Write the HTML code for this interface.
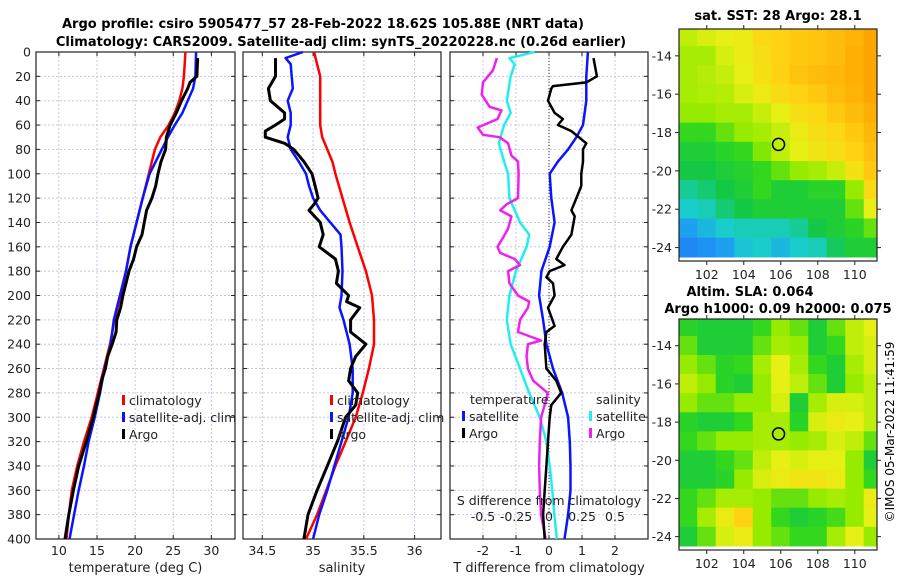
<!DOCTYPE html>
<html><head><meta charset="utf-8">
<style>
html,body{margin:0;padding:0;background:#fff;}
svg{display:block;font-family:"DejaVu Sans","Liberation Sans",sans-serif;}
</style></head>
<body>
<svg id="chart" width="900" height="580" viewBox="0 0 900 580" xmlns="http://www.w3.org/2000/svg">
<rect width="900" height="580" fill="#fff"/>
<text x="323" y="28" font-size="13" font-weight="bold" text-anchor="middle">Argo profile: csiro 5905477_57 28-Feb-2022 18.62S 105.88E (NRT data)</text>
<text x="341" y="46" font-size="13" font-weight="bold" text-anchor="middle">Climatology: CARS2009. Satellite-adj clim: synTS_20220228.nc (0.26d earlier)</text>
<text x="778" y="20" font-size="13" font-weight="bold" text-anchor="middle">sat. SST: 28 Argo: 28.1</text>
<text x="750" y="296" font-size="13" font-weight="bold" text-anchor="middle">Altim. SLA: 0.064</text>
<text x="778" y="313" font-size="13" font-weight="bold" text-anchor="middle">Argo h1000: 0.09 h2000: 0.075</text>
<text transform="translate(894,432) rotate(-90)" font-size="12" text-anchor="middle">©IMOS 05-Mar-2022 11:41:59</text>
<g id="layer"></g>
</svg>
<script>
// ---------- data ----------
const tempClimDepth = [0,10,20,30,40,50,60,70,80,100,120,140,160,180,200,220,240,260,280,300,320,340,360,380,400];
const tempClim = [26.6,26.5,26.4,26.2,25.8,25.2,24.4,23.3,22.6,21.8,21.0,20.2,19.4,18.8,18.1,17.3,16.7,15.9,15.1,14.3,13.3,12.4,11.7,11.3,11.0];
const tempSatDepth = [0,20,30,40,50,60,70,80,100,120,140,160,180,200,220,240,260,280,300,320,340,360,380,400];
const tempSat = [28.0,27.9,27.6,26.9,26.2,25.2,24.3,23.5,21.9,21.0,20.2,19.4,18.8,18.0,17.2,16.8,16.0,15.4,14.7,13.9,13.3,12.6,12.0,11.4];
const tempArgoDepth = [5,20,25,30,40,50,60,70,80,90,100,110,120,130,140,150,160,170,180,190,200,210,220,230,240,250,260,270,280,300,320,340,360,380,400];
const tempArgo = [28.2,28.1,27.2,26.9,26.1,25.4,24.6,24.1,24.0,23.4,23.0,22.7,22.2,21.5,21.2,20.9,20.2,19.8,19.2,18.8,18.4,18.1,17.6,17.5,17.0,16.4,16.1,15.6,15.3,14.5,13.6,12.6,11.9,11.3,10.8];

const salClimDepth = [0,10,20,40,60,70,80,90,100,120,140,160,180,200,220,240,260,280,300,320,340,360,380,400];
const salClim = [35.01,35.04,35.07,35.07,35.07,35.09,35.14,35.19,35.22,35.29,35.36,35.44,35.52,35.58,35.6,35.6,35.55,35.49,35.42,35.32,35.22,35.13,35.04,34.93];
const salSatDepth = [0,5,10,20,30,40,50,60,70,80,90,100,110,120,130,140,150,160,180,200,210,220,240,260,280,300,320,340,360,380,400];
const salSat = [34.9,34.73,34.78,34.79,34.8,34.75,34.78,34.78,34.75,34.78,34.86,34.93,34.96,35.0,35.07,35.17,35.27,35.28,35.29,35.28,35.26,35.3,35.36,35.39,35.39,35.35,35.28,35.21,35.14,35.06,35.0];
const salArgoDepth = [5,20,30,40,50,55,60,65,70,75,80,90,100,110,120,125,130,140,150,160,170,180,190,200,205,210,220,230,240,250,260,270,280,290,300,320,340,360,380,400];
const salArgo = [34.63,34.63,34.56,34.58,34.72,34.72,34.63,34.53,34.53,34.72,34.81,34.91,34.99,35.02,35.05,35.01,34.96,35.07,35.1,35.06,35.22,35.25,35.23,35.35,35.33,35.46,35.37,35.37,35.52,35.42,35.37,35.35,35.44,35.42,35.32,35.24,35.14,35.04,34.95,34.91];

const tDiffSatDepth = [0,20,40,60,70,80,90,100,120,140,160,180,200,220,240,260,280,300,320,340,360,380,400];
const tDiffSat = [1.18,1.13,1.13,1.03,0.83,0.58,0.27,0.02,0.07,0.17,0.02,-0.23,-0.3,-0.18,-0.08,0.12,0.4,0.58,0.63,0.65,0.65,0.58,0.47];
const tDiffArgoDepth = [5,20,25,28,30,40,50,55,60,65,75,80,90,100,110,120,130,135,150,160,170,175,180,185,190,200,210,225,230,240,260,270,280,290,300,320,340,360,380,400];
const tDiffArgo = [1.35,1.45,1.13,0.12,0.07,-0.03,0.17,0.42,0.27,0.68,1.13,1.03,1.03,0.98,0.98,0.83,0.68,0.78,0.68,0.42,0.22,0.47,0.02,-0.08,0.12,0.17,-0.03,0.17,-0.08,-0.13,-0.08,0.22,0.37,0.07,0.02,-0.03,-0.08,-0.13,-0.18,-0.13];
const sDiffSatDepth = [0,5,10,20,40,50,60,75,90,100,120,140,150,160,180,200,220,240,260,280,300,320,340,360,380,400];
const sDiffSat = [-0.11,-0.30,-0.26,-0.29,-0.32,-0.29,-0.34,-0.38,-0.34,-0.31,-0.30,-0.22,-0.15,-0.17,-0.25,-0.30,-0.32,-0.29,-0.22,-0.15,-0.07,-0.02,0.005,0.025,0.04,0.06];
const sDiffArgoDepth = [5,15,25,35,45,48,55,62,68,70,75,85,90,100,120,125,130,135,145,150,160,165,170,175,180,190,200,205,210,220,230,237,240,250,260,270,280,285,300,320,340,360,380,400];
const sDiffArgo = [-0.395,-0.425,-0.5,-0.51,-0.45,-0.36,-0.39,-0.54,-0.5,-0.375,-0.31,-0.285,-0.235,-0.23,-0.235,-0.32,-0.37,-0.285,-0.31,-0.335,-0.39,-0.37,-0.26,-0.22,-0.31,-0.3,-0.235,-0.15,-0.16,-0.22,-0.235,-0.06,-0.16,-0.17,-0.16,-0.12,-0.01,-0.02,-0.06,-0.07,-0.075,-0.07,-0.06,-0.025];

const depthTicks = [0,20,40,60,80,100,120,140,160,180,200,220,240,260,280,300,320,340,360,380,400];
const tempTicks = [10,15,20,25,30];
const salTicks = [34.5,35,35.5,36];
const tDiffTicks = [-2,-1,0,1,2];
const sDiffTicks = [-0.5,-0.25,0,0.25,0.5];
const sDiffTickLabels = ["-0.5","-0.25","0","0.25","0.5"];

const mapLons = [101,102,103,104,105,106,107,108,109,110,111];
const mapLats = [-13,-14,-15,-16,-17,-18,-19,-20,-21,-22,-23,-24];
const sstGrid = [
[0.65,0.68,0.7,0.72,0.78,0.8,0.82,0.83,0.85,0.87,0.9],
[0.62,0.62,0.68,0.72,0.76,0.8,0.82,0.83,0.85,0.88,0.9],
[0.62,0.64,0.66,0.7,0.75,0.8,0.83,0.85,0.86,0.88,0.9],
[0.62,0.63,0.64,0.68,0.72,0.77,0.8,0.82,0.85,0.87,0.9],
[0.6,0.6,0.62,0.62,0.66,0.7,0.76,0.78,0.82,0.85,0.88],
[0.5,0.5,0.55,0.6,0.62,0.66,0.72,0.76,0.78,0.82,0.86],
[0.45,0.45,0.48,0.5,0.58,0.65,0.7,0.74,0.76,0.8,0.84],
[0.42,0.42,0.45,0.47,0.5,0.55,0.6,0.62,0.66,0.75,0.82],
[0.35,0.38,0.42,0.45,0.5,0.45,0.45,0.48,0.48,0.6,0.78],
[0.3,0.32,0.38,0.42,0.45,0.45,0.45,0.45,0.45,0.55,0.7],
[0.2,0.25,0.3,0.32,0.32,0.32,0.35,0.42,0.45,0.48,0.55],
[0.12,0.15,0.2,0.28,0.3,0.25,0.3,0.32,0.4,0.45,0.45]];
const slaGrid = [
[0.48,0.45,0.45,0.45,0.5,0.6,0.55,0.45,0.55,0.65,0.7],
[0.55,0.45,0.45,0.45,0.55,0.62,0.6,0.45,0.5,0.65,0.68],
[0.6,0.55,0.48,0.5,0.62,0.7,0.62,0.5,0.45,0.62,0.68],
[0.65,0.6,0.48,0.45,0.6,0.7,0.65,0.55,0.45,0.6,0.65],
[0.6,0.55,0.55,0.6,0.6,0.68,0.45,0.62,0.68,0.68,0.65],
[0.48,0.45,0.45,0.5,0.62,0.62,0.48,0.68,0.72,0.7,0.65],
[0.5,0.55,0.6,0.6,0.62,0.62,0.6,0.62,0.68,0.65,0.55],
[0.45,0.45,0.5,0.55,0.65,0.7,0.68,0.7,0.7,0.6,0.45],
[0.45,0.45,0.48,0.6,0.68,0.72,0.74,0.74,0.72,0.6,0.5],
[0.5,0.55,0.62,0.62,0.6,0.55,0.55,0.6,0.62,0.6,0.72],
[0.5,0.62,0.72,0.8,0.6,0.5,0.45,0.48,0.52,0.6,0.7],
[0.45,0.55,0.68,0.72,0.6,0.55,0.5,0.5,0.62,0.7,0.6]];
const argoLon = 105.88;
const argoLat = -18.62;
const lonTicks = [102,104,106,108,110];
const latTicks = [-14,-16,-18,-20,-22,-24];

// ---------- helpers ----------
const NS = "http://www.w3.org/2000/svg";
const layer = document.getElementById('layer');
function mk(tag, attrs, parent){
  const e = document.createElementNS(NS, tag);
  for (const k in attrs) e.setAttribute(k, attrs[k]);
  (parent||layer).appendChild(e);
  return e;
}
const Y0 = 52, Y1 = 539;
function yDepth(d){ return Y0 + (d/400)*(Y1-Y0); }
function xScale(p, v){ return p.x0 + (v-p.min)/(p.max-p.min)*(p.x1-p.x0); }

const p1 = {x0:36, x1:235, min:7, max:33.1};
const p2 = {x0:243, x1:441, min:34.31, max:36.26};
const p3 = {x0:450, x1:648, min:-3, max:3};
const p3s = {x0:450, x1:648, min:-0.75, max:0.75};

function drawPanel(p, ticks, labels, name, showDepthLabels, xtitle){
  const g = mk('g', {});
  
  
  depthTicks.forEach(d => {
    const y = yDepth(d);
    const l = mk('line', {x1:p.x0, x2:p.x1, y1:y, y2:y, stroke:'#c4c6e6', 'stroke-width':1, 'stroke-dasharray':'2,2'}, g);
    
    
    mk('line', {x1:p.x0, x2:p.x0+4, y1:y, y2:y, stroke:'#222'}, g);
    mk('line', {x1:p.x1-4, x2:p.x1, y1:y, y2:y, stroke:'#222'}, g);
    if (showDepthLabels){
      const t = mk('text', {x:p.x0-5, y:y+4.5, 'font-size':12.5, 'text-anchor':'end', fill:'#222'}, g);
      t.textContent = d;
      
      
    }
  });
  ticks.forEach((v,i) => {
    const x = xScale(p, v);
    const l = mk('line', {x1:x, x2:x, y1:Y0, y2:Y1, stroke:'#c4c6e6', 'stroke-width':1, 'stroke-dasharray':'2,2'}, g);
    
    
    mk('line', {x1:x, x2:x, y1:Y1-4, y2:Y1, stroke:'#222'}, g);
    mk('line', {x1:x, x2:x, y1:Y0, y2:Y0+4, stroke:'#222'}, g);
    const t = mk('text', {x:x, y:Y1+16, 'font-size':12.5, 'text-anchor':'middle', fill:'#222'}, g);
    t.textContent = labels[i];
    
    
  });
  const fr = mk('rect', {x:p.x0, y:Y0, width:p.x1-p.x0, height:Y1-Y0, fill:'none', stroke:'#222', 'stroke-width':1.2}, g);
  
  
  const tt = mk('text', {x:(p.x0+p.x1)/2, y:572, 'font-size':13, 'text-anchor':'middle', fill:'#222'}, g);
  tt.textContent = xtitle;
  
  
  return g;
}
function drawLine(p, depths, vals, color, width, name){
  const pts = depths.map((d,i) => xScale(p, vals[i]).toFixed(1)+','+yDepth(d).toFixed(1)).join(' ');
  const l = mk('polyline', {points:pts, fill:'none', stroke:color, 'stroke-width':width, 'stroke-linejoin':'round'});
  
  
}
function legendEntry(x, y, color, label, name){
  const g = mk('g', {});
  
  
  mk('rect', {x:x, y:y-10, width:3, height:10, fill:color}, g);
  const t = mk('text', {x:x+7, y:y, 'font-size':12.5, fill:'#222'}, g);
  t.textContent = label;
}

// Panel 1: temperature
drawPanel(p1, tempTicks, tempTicks.map(String), 'temperature-panel', true, 'temperature (deg C)');
drawLine(p1, tempClimDepth, tempClim, '#ff0000', 2.5, 'temp-climatology-line');
drawLine(p1, tempSatDepth, tempSat, '#0a14ff', 2.5, 'temp-satellite-line');
drawLine(p1, tempArgoDepth, tempArgo, '#000', 3, 'temp-argo-line');
legendEntry(122, 405, '#ff0000', 'climatology', 'legend-climatology');
legendEntry(122, 422, '#0a14ff', 'satellite-adj. clim', 'legend-satellite');
legendEntry(122, 439, '#000', 'Argo', 'legend-argo');

// Panel 2: salinity
drawPanel(p2, salTicks, salTicks.map(String), 'salinity-panel', false, 'salinity');
drawLine(p2, salClimDepth, salClim, '#ff0000', 2.5, 'sal-climatology-line');
drawLine(p2, salSatDepth, salSat, '#0a14ff', 2.5, 'sal-satellite-line');
drawLine(p2, salArgoDepth, salArgo, '#000', 3, 'sal-argo-line');
legendEntry(330, 405, '#ff0000', 'climatology', 'legend-climatology-2');
legendEntry(330, 422, '#0a14ff', 'satellite-adj. clim', 'legend-satellite-2');
legendEntry(330, 439, '#000', 'Argo', 'legend-argo-2');

// Panel 3: differences
drawPanel(p3, tDiffTicks, tDiffTicks.map(String), 'difference-panel', false, 'T difference from climatology');
const zl = mk('line', {x1:xScale(p3,0), x2:xScale(p3,0), y1:Y0, y2:Y1, stroke:'#333', 'stroke-width':1, 'stroke-dasharray':'1,2'});


drawLine(p3s, sDiffSatDepth, sDiffSat, '#22eeee', 2.5, 'sdiff-satellite-line');
drawLine(p3s, sDiffArgoDepth, sDiffArgo, '#ee22ee', 2.5, 'sdiff-argo-line');
drawLine(p3, tDiffSatDepth, tDiffSat, '#0a14ff', 2.5, 'tdiff-satellite-line');
drawLine(p3, tDiffArgoDepth, tDiffArgo, '#000', 2.5, 'tdiff-argo-line');
(function(){
  const t = mk('text', {x:470, y:404, 'font-size':12.5, fill:'#222'});
  t.textContent = 'temperature';
  
  
  const s = mk('text', {x:596, y:404, 'font-size':12.5, fill:'#222'});
  s.textContent = 'salinity';
  
  
})();
legendEntry(462, 421, '#0a14ff', 'satellite', 'legend-t-satellite');
legendEntry(462, 438, '#000', 'Argo', 'legend-t-argo');
legendEntry(589, 421, '#22eeee', 'satellite', 'legend-s-satellite');
legendEntry(589, 438, '#ee22ee', 'Argo', 'legend-s-argo');
(function(){
  const t = mk('text', {x:549, y:505, 'font-size':12.5, 'text-anchor':'middle', fill:'#222'});
  t.textContent = 'S difference from climatology';
  
  
  sDiffTicks.forEach((v,i) => {
    const l = mk('text', {x:xScale(p3s, v), y:521, 'font-size':12.5, 'text-anchor':'middle', fill:'#222'});
    l.textContent = sDiffTickLabels[i];
    
    
  });
})();

// ---------- maps ----------
const stops = [[0,[30,100,255]],[0.2,[30,160,240]],[0.3,[25,205,205]],[0.42,[20,200,70]],[0.5,[50,215,30]],[0.6,[150,235,0]],[0.7,[230,240,20]],[0.8,[255,210,20]],[0.9,[255,165,0]],[1,[255,120,0]]];
function cmap(v){
  for (let i=1;i<stops.length;i++){
    if (v<=stops[i][0]){
      const a=stops[i-1], b=stops[i], f=(v-a[0])/(b[0]-a[0]);
      const c=a[1].map((x,j)=>Math.round(x+(b[1][j]-x)*f));
      return 'rgb('+c.join(',')+')';
    }
  }
  return 'rgb(255,120,0)';
}
function drawMap(m, grid, name){
  const g = mk('g', {});
  
  
  const lx = v => m.x0 + (v-m.lonMin)/(m.lonMax-m.lonMin)*(m.x1-m.x0);
  const ly = v => m.y0 + (m.latMax-v)/(m.latMax-m.latMin)*(m.y1-m.y0);
  mk('clipPath', {id:name+'-clip'}, g);
  const clip = g.lastChild;
  mk('rect', {x:m.x0, y:m.y0, width:m.x1-m.x0, height:m.y1-m.y0}, clip);
  const cells = mk('g', {'clip-path':'url(#'+name+'-clip)'}, g);
  grid.forEach((row, r) => row.forEach((v, c) => {
    const xa = lx(mapLons[c]-0.5), xb = lx(mapLons[c]+0.5);
    const ya = ly(mapLats[r]+0.5), yb = ly(mapLats[r]-0.5);
    const cell = mk('rect', {x:xa-0.3, y:ya-0.3, width:xb-xa+0.6, height:yb-ya+0.6, fill:cmap(v)}, cells);
    
    
  }));
  mk('rect', {x:m.x0, y:m.y0, width:m.x1-m.x0, height:m.y1-m.y0, fill:'none', stroke:'#222', 'stroke-width':1.2}, g);
  lonTicks.forEach(v => {
    const x = lx(v);
    mk('line', {x1:x, x2:x, y1:m.y1, y2:m.y1+4, stroke:'#222'}, g);
    mk('line', {x1:x, x2:x, y1:m.y0-4, y2:m.y0, stroke:'#222'}, g);
    const t = mk('text', {x:x, y:m.y1+18, 'font-size':12.5, 'text-anchor':'middle', fill:'#222'}, g);
    t.textContent = v;
    
    
  });
  latTicks.forEach(v => {
    const y = ly(v);
    mk('line', {x1:m.x0-4, x2:m.x0, y1:y, y2:y, stroke:'#222'}, g);
    mk('line', {x1:m.x1, x2:m.x1+4, y1:y, y2:y, stroke:'#222'}, g);
    const t = mk('text', {x:m.x0-7, y:y+4.5, 'font-size':12.5, 'text-anchor':'end', fill:'#222'}, g);
    t.textContent = v;
    
    
  });
  const c = mk('circle', {cx:lx(argoLon), cy:ly(argoLat), r:6, fill:'none', stroke:'#000', 'stroke-width':1.5}, g);
  
  
}
drawMap({x0:679, x1:877, y0:29, y1:261, lonMin:100.5, lonMax:111.2, latMin:-24.7, latMax:-12.6}, sstGrid, 'sst-map');
drawMap({x0:679, x1:877, y0:319, y1:550, lonMin:100.5, lonMax:111.2, latMin:-24.7, latMax:-12.6}, slaGrid, 'sla-map');
</script>
</body></html>
